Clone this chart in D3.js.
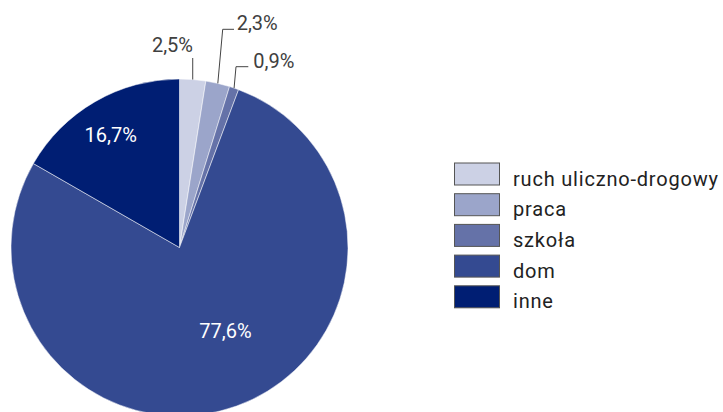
<!DOCTYPE html>
<html>
<head>
<meta charset="utf-8">
<script src="https://cdn.jsdelivr.net/npm/d3@7"></script>
<style>
  body { margin: 0; background: #fff; }
  text { font-family: Roboto, "Noto Sans", sans-serif; }
</style>
</head>
<body>
<div id="chart"></div>
<script>
const categories = ["ruch uliczno-drogowy", "praca", "szkoła", "dom", "inne"];
const values = [2.5, 2.3, 0.9, 77.6, 16.7];
const labels = ["2,5%", "2,3%", "0,9%", "77,6%", "16,7%"];
const colours = ["#ccd1e5", "#9ba5ca", "#6572a8", "#344a91", "#001e73"];

const width = 723, height = 412;
const cx = 179.5, cy = 247.5, radius = 168.5;

const svg = d3.select("#chart").append("svg")
    .attr("width", width)
    .attr("height", height);

const g = svg.append("g")
    .attr("transform", `translate(${cx},${cy})`);

const pie = d3.pie().sort(null).value(d => d.value);
const arc = d3.arc().innerRadius(0).outerRadius(radius);

const data = categories.map((c, i) => ({name: c, value: values[i], label: labels[i], colour: colours[i]}));
const arcs = pie(data);

g.selectAll("path.slice")
    .data(arcs)
    .enter().append("path")
    .attr("class", "slice")
    .attr("d", arc)
    .attr("fill", d => d.data.colour)
    .attr("stroke", "#fff")
    .attr("stroke-width", 0.5);

const mid = d => (d.startAngle + d.endAngle) / 2;
const rad = deg => deg * Math.PI / 180;

// inside labels: radius share and angle nudge (degrees) for the big slices
const inner = [
    {i: 3, r: 0.567, shift: -9},
    {i: 4, r: 0.785, shift: -1.3}
];
inner.forEach(o => {
    const a = arcs[o.i];
    const p = d3.pointRadial(mid(a) + rad(o.shift), o.r * radius);
    g.append("text")
        .attr("x", p[0])
        .attr("y", p[1])
        .attr("dy", "0.35em")
        .attr("text-anchor", "middle")
        .attr("fill", "#fff")
        .style("font-size", "20px")
        .text(a.data.label);
});

// outside labels with leader lines for the small slices
const outside = [
    {i: 0, bend: null, end: [13.8, -189.5], text: [13.5, -202.5], anchor: "end"},
    {i: 1, bend: [43.2, -218.2], end: [54.5, -218.2], text: [57.2, -225], anchor: "start"},
    {i: 2, bend: [56.5, -180.8], end: [68.8, -180.8], text: [73.8, -186.7], anchor: "start"}
];

outside.forEach(o => {
    const a = arcs[o.i];
    const p = d3.pointRadial(mid(a), radius);
    const pts = o.bend ? [p, o.bend, o.end] : [p, [p[0], o.end[1]]];
    g.append("polyline")
        .attr("points", pts.map(q => q.join(",")).join(" "))
        .attr("fill", "none")
        .attr("stroke", "#444")
        .attr("stroke-width", 1);
    g.append("text")
        .attr("x", o.text[0])
        .attr("y", o.text[1])
        .attr("dy", "0.35em")
        .attr("text-anchor", o.anchor)
        .attr("fill", "#404040")
        .style("font-size", "20px")
        .text(a.data.label);
});

// legend
const legendY = d3.scaleBand()
    .domain(categories)
    .range([160.5, 314])
    .paddingInner(0);

const legend = svg.append("g")
    .attr("transform", "translate(454,0)");

const items = legend.selectAll("g.item")
    .data(data)
    .enter().append("g")
    .attr("class", "item")
    .attr("transform", d => `translate(0,${legendY(d.name)})`);

items.append("rect")
    .attr("x", 0.5)
    .attr("y", 2.5)
    .attr("width", 45)
    .attr("height", 22)
    .attr("fill", d => d.colour)
    .attr("stroke", "#555")
    .attr("stroke-width", 1);

items.append("text")
    .attr("x", 59)
    .attr("y", 18)
    .attr("dy", "0.35em")
    .attr("fill", "#222")
    .style("font-size", "20px")
    .style("letter-spacing", "0.8px")
    .text(d => d.name);
</script>
</body>
</html>
